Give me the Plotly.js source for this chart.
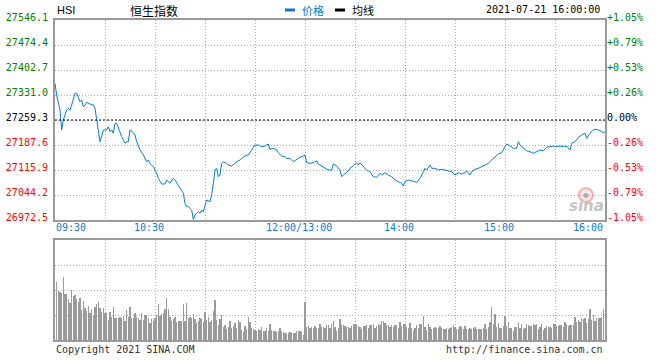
<!DOCTYPE html>
<html>
<head>
<meta charset="utf-8">
<script src="https://cdn.plot.ly/plotly-3.0.1.min.js"></script>
<style>html,body{margin:0;padding:0;background:#fff;}#chart{width:660px;height:360px;}</style>
</head>
<body>
<div id="chart"></div>
<script>
// ---- data ----
const symbol = "HSI";
const indexName = "恒生指数";
const stampText = "2021-07-21 16:00:00";
const prevClose = 27259.3;

const times = [
"09:30","09:31","09:33","09:34","09:35","09:37","09:38","09:39","09:40","09:41","09:42","09:43","09:44","09:45","09:46","09:47","09:48","09:49","09:51","09:53","09:54","09:55","09:56","09:57","09:58","09:59",
"10:01","10:02","10:03","10:04","10:05","10:06","10:07","10:09","10:10","10:12","10:13","10:14","10:15","10:17","10:18","10:19","10:20","10:21","10:23","10:24","10:25","10:26","10:27","10:29",
"10:31","10:32","10:34","10:36","10:37","10:39","10:41","10:42","10:44","10:45","10:47","10:48","10:49","10:50","10:51","10:52","10:53","10:54","10:55","10:56","10:57","10:58","10:59",
"11:00","11:01","11:03","11:04","11:05","11:06","11:07","11:08","11:09","11:10","11:11","11:13","11:14","11:16","11:18","11:19","11:21","11:22","11:24","11:26","11:28","11:30",
"11:32","11:34","11:36","11:38","11:39","11:41","11:43","11:44","11:46","11:48","11:49","11:51","11:53","11:55","11:57","11:59","12:00",
"13:01","13:03","13:05","13:07","13:08","13:10","13:12","13:14","13:16","13:17","13:19","13:21","13:22","13:23","13:25","13:27","13:29","13:31","13:32","13:33","13:35","13:37","13:39","13:41","13:43","13:45","13:46","13:48","13:50","13:52","13:54","13:56","13:58","13:59",
"14:00","14:02","14:04","14:06","14:07","14:09","14:11","14:12","14:13","14:15","14:16","14:18","14:20","14:22","14:24","14:26","14:28","14:30","14:32","14:34","14:36","14:37","14:39","14:40","14:42","14:44","14:46","14:48","14:50","14:52","14:54","14:56","14:58","14:59",
"15:01","15:03","15:05","15:07","15:08","15:09","15:11","15:13","15:15","15:17","15:19","15:21","15:23","15:25","15:27","15:29","15:31","15:33","15:35","15:37","15:39","15:40","15:42","15:44","15:46","15:48","15:49","15:51","15:53","15:55","15:57","15:59","16:00"
];
const prices = [
27364.6,27331.0,27288.0,27230.6,27259.3,27288.0,27292.9,27288.0,27302.3,27321.5,27335.9,27335.9,27321.5,27311.8,27316.7,27297.4,27302.3,27310.0,27305.2,27302.3,27292.9,27259.3,27225.7,27197.1,27211.4,27230.6,
27230.6,27240.1,27225.7,27230.6,27221.2,27249.8,27249.8,27221.2,27211.4,27192.5,27197.1,27197.1,27230.6,27222.9,27216.3,27197.1,27182.7,27173.3,27158.9,27149.5,27139.7,27144.6,27135.1,27125.4,
27106.4,27092.1,27075.7,27075.7,27087.2,27077.8,27092.1,27087.2,27072.9,27063.4,27049.1,27020.4,27010.6,27010.6,27006.0,27001.2,26974.5,26986.8,26991.7,26996.3,26991.7,27001.2,26996.3,
27010.6,27029.9,27025.0,27044.2,27077.8,27115.9,27120.8,27096.7,27101.6,27135.1,27139.7,27135.1,27130.2,27127.4,27135.1,27139.7,27144.6,27149.5,27156.0,27158.9,27173.3,27187.6,
27187.6,27182.7,27184.7,27190.5,27175.3,27178.1,27173.3,27165.5,27156.0,27154.0,27149.5,27149.5,27139.7,27146.6,27152.3,27156.0,27158.9,
27136.8,27135.1,27136.8,27142.6,27133.1,27127.4,27120.8,27115.9,27115.9,27133.1,27127.4,27115.9,27096.7,27101.6,27108.2,27120.8,27128.2,27136.8,27130.2,27136.8,27125.4,27115.9,27111.0,27096.7,27094.9,27106.4,27101.6,27108.2,27101.6,27096.7,27087.2,27082.3,27077.8,27070.0,
27082.3,27087.2,27085.2,27082.3,27079.5,27092.1,27111.0,27120.8,27115.9,27130.2,27120.8,27120.8,27115.9,27117.9,27115.9,27113.9,27111.0,27101.6,27108.2,27104.4,27108.2,27113.9,27101.6,27111.0,27117.9,27120.8,27125.4,27130.2,27135.1,27144.6,27154.0,27161.8,27165.5,27173.3,
27190.5,27184.7,27178.1,27178.1,27197.1,27187.6,27178.1,27171.2,27168.4,27163.8,27168.4,27173.3,27171.2,27181.0,27182.7,27184.7,27182.7,27184.7,27182.7,27184.7,27173.3,27192.5,27197.1,27209.7,27216.3,27221.2,27206.8,27221.2,27230.6,27232.6,27228.6,27222.9,27225.7
];
// volume per trading minute (relative units), minute 1 .. 329
const volumes = [
175,148,145,142,190,138,138,123,110,150,
132,135,123,115,125,90,117,97,87,103,
80,92,75,98,108,114,96,84,97,82,
82,60,85,70,100,67,67,65,70,65,
73,58,90,70,100,67,67,80,70,67,
60,82,60,75,75,65,52,62,58,65,
74,108,73,77,80,92,127,93,70,58,
62,68,55,58,58,57,108,57,111,65,
70,65,78,62,52,58,65,64,55,83,
60,70,55,60,87,120,60,45,63,75,
40,45,33,40,57,35,43,52,37,60,
53,30,25,43,33,68,53,35,32,30,
27,33,30,40,27,27,37,27,48,30,
27,28,24,27,37,27,25,22,22,22,
25,22,22,22,28,28,28,25,15,115,
40,43,35,40,35,42,35,37,48,40,38,35,45,45,
35,48,57,40,27,35,63,45,45,42,
38,38,35,42,48,48,48,42,38,33,
42,42,45,35,45,45,48,35,43,48,
45,57,57,50,45,45,40,45,38,45,
45,35,53,42,48,48,40,37,50,35,
30,35,45,35,48,48,72,38,30,48,
38,32,35,38,35,35,42,35,32,32,
35,32,35,38,45,40,33,33,42,38,
33,42,33,33,35,33,35,40,33,33,
33,33,35,47,33,38,53,100,48,77,
38,52,37,37,42,73,42,53,35,35,
27,38,38,53,35,48,33,35,48,45,
42,42,48,45,48,32,38,48,30,35,
42,38,40,35,47,47,42,43,45,45,
38,53,47,42,45,45,45,68,55,60,
55,65,62,65,52,63,93,60,75,58,
67,67,65,70,93
];
const priceTicks = [27546.1,27474.4,27402.7,27331.0,27259.3,27187.6,27115.9,27044.2,26972.5];
const pctTicks = ["+1.05%","+0.79%","+0.53%","+0.26%","0.00%","-0.26%","-0.53%","-0.79%","-1.05%"];
const timeLabels = ["09:30","10:30","12:00/13:00","14:00","15:00","16:00"];
const timeLabelPos = ["09:30","10:30","12:00","14:00","15:00","16:00"];
const legendNames = ["价格","均线"];
const footerLeft = "Copyright 2021 SINA.COM";
const footerRight = "http://finance.sina.com.cn";

// ---- helpers ----
function toIndex(t){
  const p = t.split(":").map(Number);
  const m = p[0]*60 + p[1];
  return m <= 720 ? m - 570 : 150 + (m - 780);
}
const px = x => (x - 55) / 550;
const py = y => (340 - y) / 320;
const BLUE = "#0a7bcc", GREEN = "#008000", RED = "#ff0000";
const MONO = "DejaVu Sans Mono";
function tickColor(v){ return Math.abs(v - prevClose) < 1e-6 ? "#000" : (v > prevClose ? GREEN : RED); }

const xPrice = times.map(toIndex);
const xVol = volumes.map((v,i) => i + 1);
const yMin = priceTicks[priceTicks.length-1], yMax = priceTicks[0];

const traces = [
  {x: xPrice, y: prices, type: "scatter", mode: "lines", line: {color: BLUE, width: 1}, xaxis: "x", yaxis: "y", hoverinfo: "skip"},
  // same series bound to the right (percent) axis, invisible, so that axis is drawn
  {x: xPrice, y: prices, type: "scatter", mode: "lines", line: {color: "rgba(0,0,0,0)", width: 0}, xaxis: "x", yaxis: "y2", hoverinfo: "skip"},
  {x: xVol, y: volumes, type: "bar", marker: {color: "#9a9a9a", line: {width: 0}}, width: 0.62, xaxis: "x2", yaxis: "y3", hoverinfo: "skip"}
];

const gridStyle = {showgrid: true, gridcolor: "#aaaaaa", gridwidth: 1, griddash: "1px,2px"};
const frame = {showline: true, linecolor: "#999999", linewidth: 2, mirror: true, zeroline: false};

const annotations = [];
const baseFont = {family: MONO, size: 10, color: "#000"};
annotations.push({text: symbol, xref: "paper", yref: "paper", x: px(55), y: py(9.5), xanchor: "left", yanchor: "middle", showarrow: false, font: {family: "Liberation Sans", size: 11, color: "#000"}});
annotations.push({text: indexName, xref: "paper", yref: "paper", x: px(154), y: py(10), xanchor: "center", yanchor: "middle", showarrow: false, font: {family: "Noto Sans CJK SC", size: 12, color: "#000"}});
annotations.push({text: legendNames[0], xref: "paper", yref: "paper", x: px(300), y: py(10), xanchor: "left", yanchor: "middle", showarrow: false, font: {family: "Noto Sans CJK SC", size: 11, color: BLUE}});
annotations.push({text: legendNames[1], xref: "paper", yref: "paper", x: px(350), y: py(10), xanchor: "left", yanchor: "middle", showarrow: false, font: {family: "Noto Sans CJK SC", size: 11, color: "#000"}});
annotations.push({text: stampText, xref: "paper", yref: "paper", x: px(602), y: py(9.5), xanchor: "right", yanchor: "middle", showarrow: false, font: baseFont});
annotations.push({text: footerLeft, xref: "paper", yref: "paper", x: px(54), y: py(349.5), xanchor: "left", yanchor: "middle", showarrow: false, font: {family: MONO, size: 10, color: "#333"}});
annotations.push({text: footerRight, xref: "paper", yref: "paper", x: px(605), y: py(349.5), xanchor: "right", yanchor: "middle", showarrow: false, font: {family: MONO, size: 10, color: "#333"}});
timeLabels.forEach((t, i) => {
  const xi = toIndex(timeLabelPos[i]);
  const anchor = i === 0 ? "left" : (i === timeLabels.length - 1 ? "right" : "center");
  annotations.push({text: t, xref: "x", yref: "paper", x: xi, y: py(227.5), xanchor: anchor, yanchor: "middle",
    xshift: anchor === "center" ? -6 : (anchor === "left" ? -1 : 0), showarrow: false, font: {family: MONO, size: 10, color: BLUE}});
});
// sina watermark
annotations.push({text: "sina", xref: "paper", yref: "paper", x: px(586), y: py(206), xanchor: "center", yanchor: "middle", showarrow: false,
  font: {family: "DejaVu Sans", size: 15, color: "#c4c4c4", weight: "bold", style: "italic"}});

const shapes = [
  {type: "line", xref: "x", yref: "y", x0: 0, x1: 330, y0: prevClose, y1: prevClose, line: {color: "#000", width: 1, dash: "2px,2px"}},
  {type: "rect", xref: "paper", yref: "paper", x0: px(285), x1: px(295), y0: py(11.5), y1: py(8.5), line: {width: 0}, fillcolor: BLUE},
  {type: "rect", xref: "paper", yref: "paper", x0: px(335), x1: px(345), y0: py(11.5), y1: py(8.5), line: {width: 0}, fillcolor: "#000"},
  {type: "circle", xref: "paper", yref: "paper", x0: px(579), x1: px(593), y0: py(202), y1: py(188), line: {color: "rgba(240,120,120,0.55)", width: 2}, fillcolor: "rgba(250,190,190,0.35)"},
  {type: "circle", xref: "paper", yref: "paper", x0: px(583.5), x1: px(588.5), y0: py(198), y1: py(193), line: {width: 0}, fillcolor: "rgba(150,150,150,0.7)"}
];

const layout = {
  width: 660, height: 360,
  margin: {l: 55, r: 55, t: 20, b: 20, pad: 0},
  paper_bgcolor: "#fff", plot_bgcolor: "#fff",
  showlegend: false,
  font: {family: MONO, size: 10, color: "#000"},
  xaxis: Object.assign({domain: [0,1], range: [0,330], anchor: "y", tickmode: "linear", tick0: 0, dtick: 30, showticklabels: false, ticks: "", fixedrange: true}, gridStyle, frame),
  xaxis2: Object.assign({domain: [0,1], range: [0,330], anchor: "y3", tickmode: "linear", tick0: 0, dtick: 30, showticklabels: false, ticks: "", fixedrange: true}, gridStyle, frame),
  yaxis: Object.assign({domain: [0.375, 1], range: [yMin, yMax], anchor: "x", tickmode: "array", tickvals: priceTicks,
    ticktext: priceTicks.map(v => '<span style="color:' + tickColor(v) + '">' + v.toFixed(1) + '</span>'),
    ticks: "", ticklabelshift: -3, ticklabelstandoff: 3, tickfont: {family: MONO, size: 10}}, gridStyle, frame),
  yaxis2: {overlaying: "y", side: "right", anchor: "x", range: [yMin, yMax], tickmode: "array", tickvals: priceTicks,
    ticktext: priceTicks.map((v, i) => '<span style="color:' + tickColor(v) + '">' + pctTicks[i] + '</span>'),
    ticks: "", showgrid: false, zeroline: false, showline: false, showticklabels: true, ticklabelshift: -3, ticklabelstandoff: 1, tickfont: {family: MONO, size: 10}},
  yaxis3: Object.assign({domain: [0, 0.3125], range: [0, 300], anchor: "x2", tickmode: "linear", tick0: 0, dtick: 75, showticklabels: false, ticks: "", fixedrange: true}, gridStyle, frame),
  bargap: 0,
  annotations: annotations,
  shapes: shapes
};

Plotly.newPlot("chart", traces, layout, {staticPlot: true, displayModeBar: false});
</script>
</body>
</html>
